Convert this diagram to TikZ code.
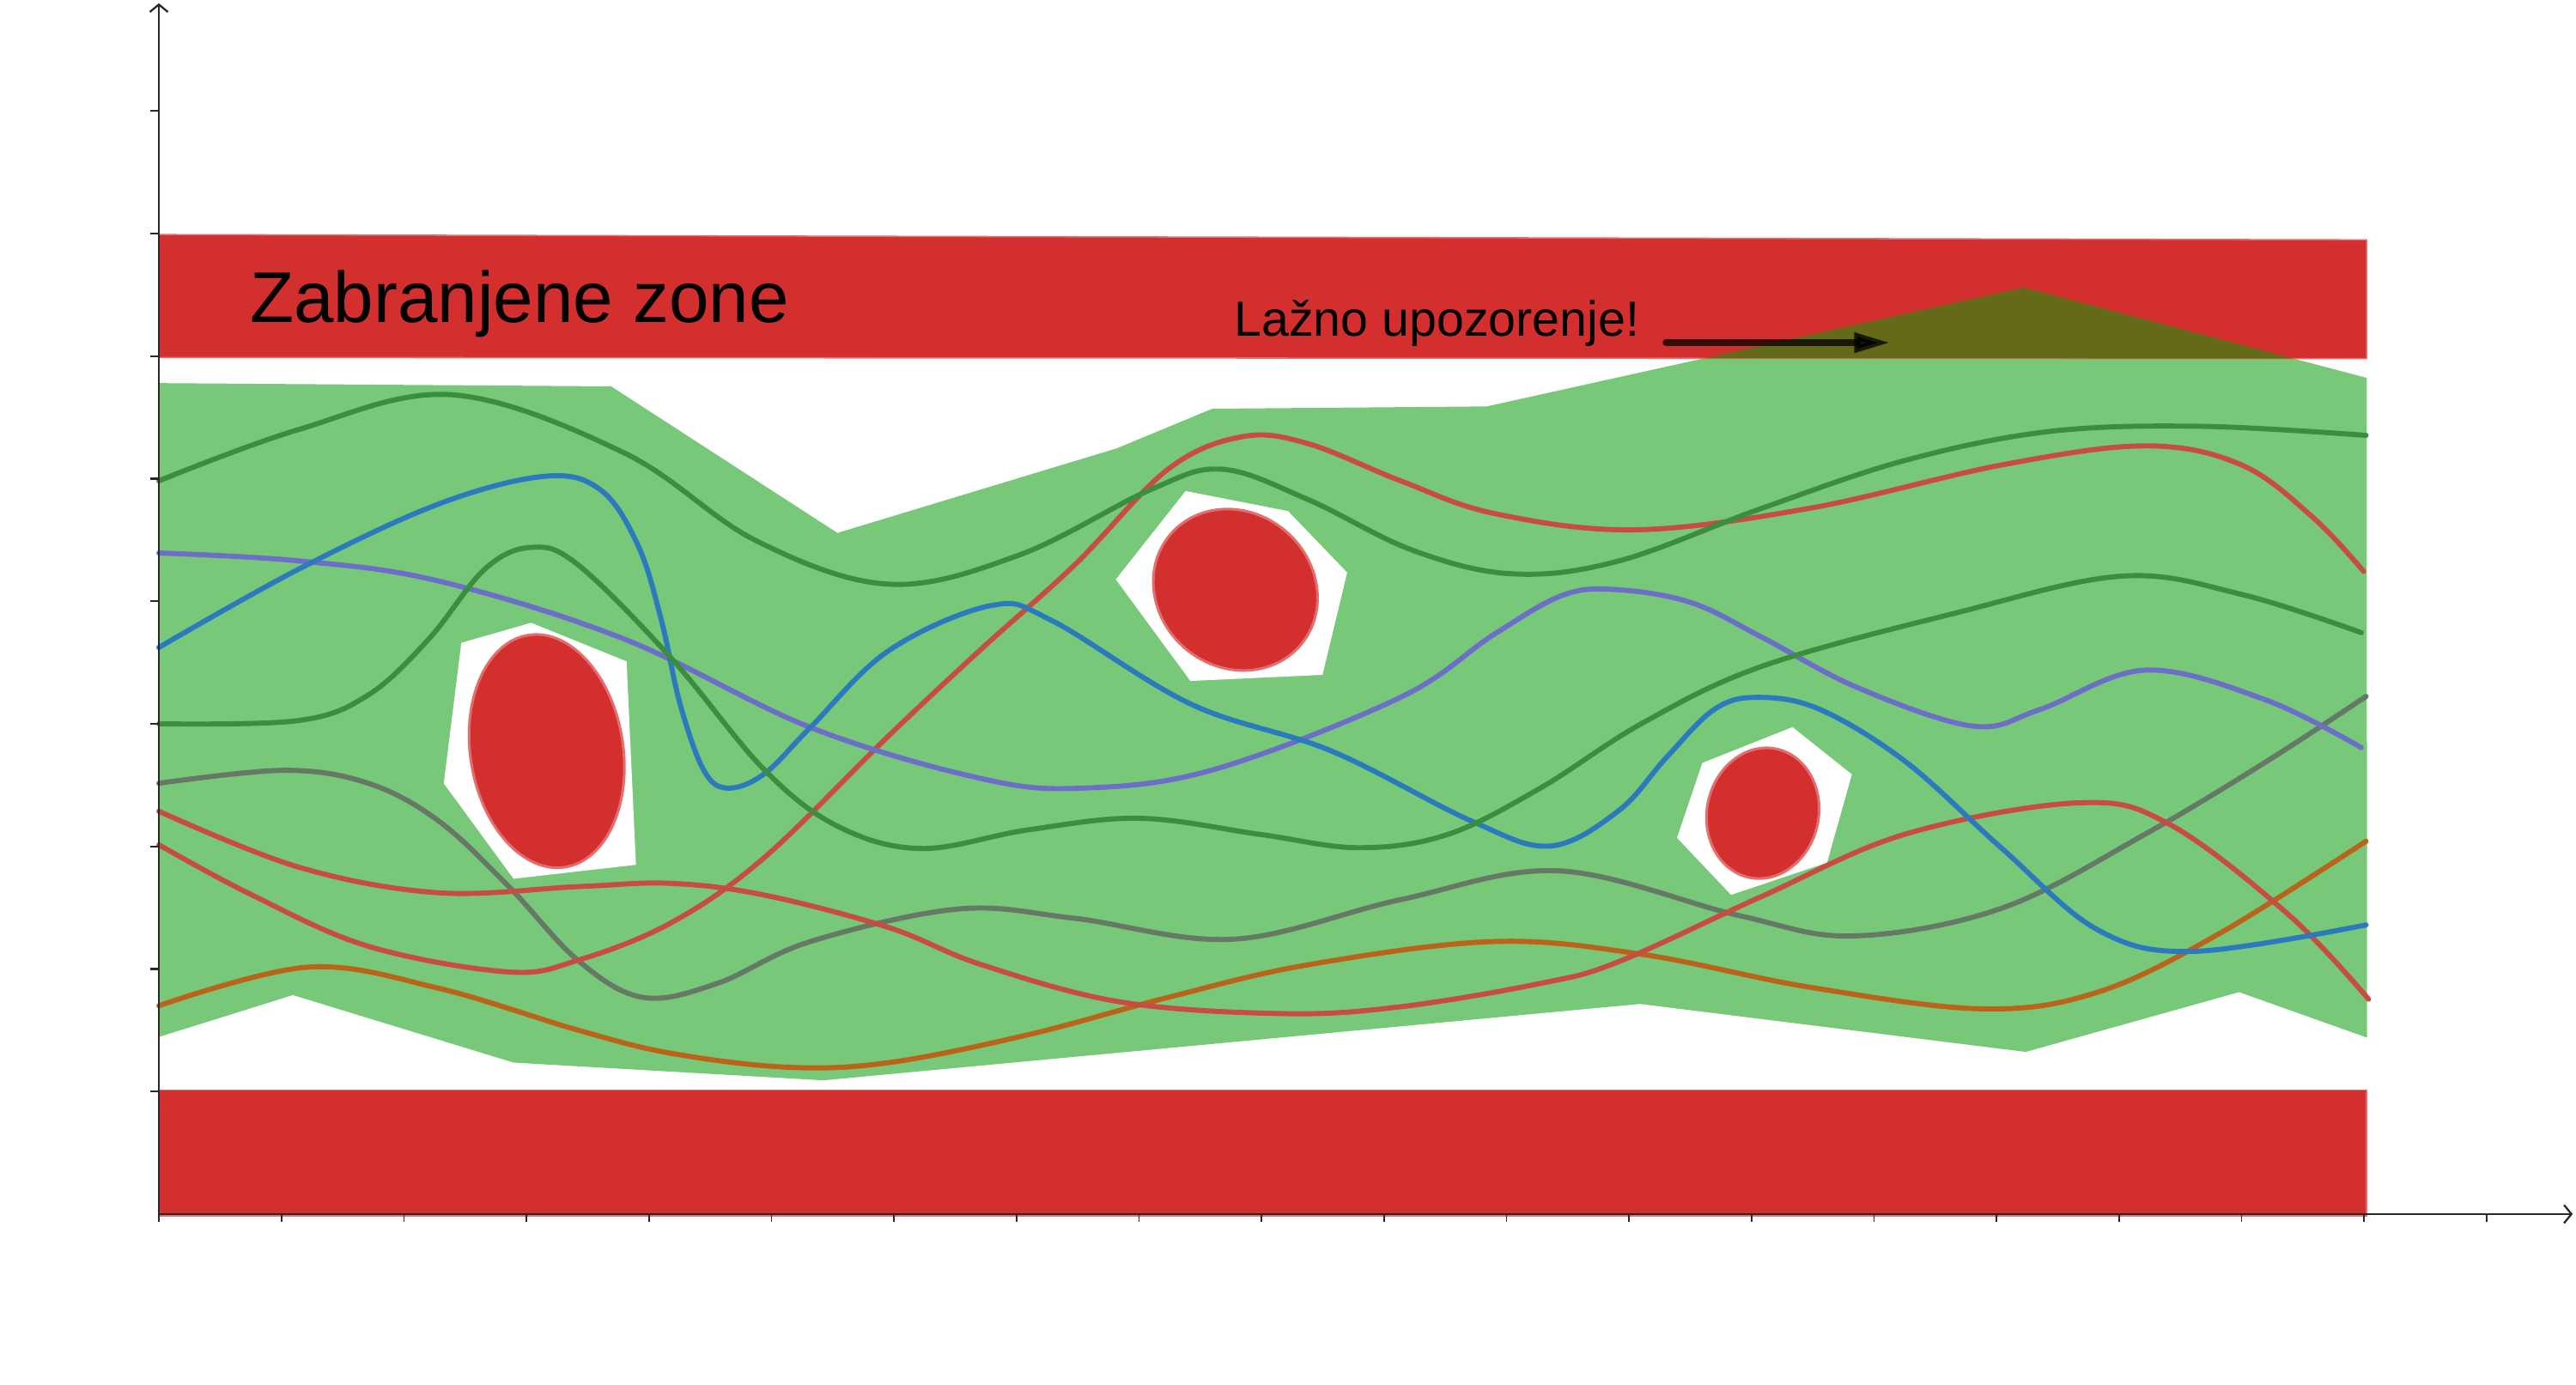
\documentclass[tikz,border=0pt]{standalone}
\usepackage{fontspec}
\setmainfont{Liberation Sans}
\usetikzlibrary{arrows.meta}
\definecolor{zonered}{RGB}{211,47,47}
\definecolor{zoneedge}{RGB}{226,110,110}
\definecolor{freegreen}{RGB}{120,200,121}
\definecolor{olivezone}{RGB}{101,106,24}
\definecolor{cdgreen}{RGB}{58,142,62}
\definecolor{cblue}{RGB}{43,122,190}
\definecolor{cpurple}{RGB}{108,110,200}
\definecolor{cred}{RGB}{200,76,66}
\definecolor{cgrey}{RGB}{102,120,102}
\definecolor{corange}{RGB}{185,100,26}
\definecolor{axiscol}{RGB}{40,40,40}
\tikzset{
  axisline/.style={draw=axiscol, line width=1.2pt},
  traj/.style={line width=3.1pt, line cap=round, line join=round},
  obstaclepad/.style={fill=white},
  obstaclecore/.style={fill=zonered, draw=zoneedge, line width=1.6pt},
  zoneband/.style={fill=zonered, draw=zoneedge, line width=0.8pt},
}
\def\GreenRegion{(96.7,233.2) -- (372,235.2) -- (509.7,324.4) -- (679.8,272.9) -- (737.9,248.8) -- (905,247.4) -- (1232,175) -- (1440.6,230) -- (1440.8,631.6) -- (1362.9,603.9) -- (1233.1,640.3) -- (998.3,611.1) -- (501.2,657.6) -- (312.6,646.8) -- (178.3,605.7) -- (96.7,631.2) -- cycle}
\def\TopBand{(96.7,142.8) -- (1440.5,146) -- (1440.5,218.3) -- (96.7,217.6) -- cycle}
\begin{document}
\begin{tikzpicture}[x=1pt,y=-1pt]
\useasboundingbox (0,0) rectangle (1568,843);

% free (green) region
\fill[freegreen] \GreenRegion;

% forbidden zones
\path[zoneband] \TopBand;
\path[zoneband] (96.7,663.6) rectangle (1440.5,740.2);

% overlap of the free region with the top forbidden zone
\begin{scope}
  \clip \TopBand;
  \fill[olivezone] \GreenRegion;
\end{scope}

% obstacles
\fill[obstaclepad] (323.3,379.1) -- (381.4,402.6) -- (387.1,526.4) -- (312.6,534.9) -- (270.1,476.8) -- (280.8,391.3) -- cycle;
\fill[obstaclepad] (721.7,298.9) -- (784,311.1) -- (820,348.5) -- (805,410.8) -- (724.6,414.5) -- (679.2,352.7) -- cycle;
\fill[obstaclepad] (1091.1,442.6) -- (1127.2,471.4) -- (1112.1,525.1) -- (1053.7,544.7) -- (1020.8,510) -- (1036.2,464.4) -- cycle;
\begin{scope}[shift={(332.8,457.2)}, rotate=9]
  \path[obstaclecore] (0,0) ellipse [x radius=46.5pt, y radius=71.5pt];
\end{scope}
\begin{scope}[shift={(752,359)}, rotate=-40]
  \path[obstaclecore] (0,0) ellipse [x radius=52pt, y radius=47pt];
\end{scope}
\begin{scope}[shift={(1073,495)}, rotate=-12]
  \path[obstaclecore] (0,0) ellipse [x radius=34pt, y radius=40pt];
\end{scope}

% trajectories
\draw[traj, corange] plot[smooth, tension=0.6] coordinates {(96.7,612.2) (187.4,588.7) (266.7,601.5) (351.7,627) (408.3,641.1) (479.1,649.6) (541,646.8) (626,629.8) (711,607.1) (796,587.3) (909.3,573.1) (1000,581) (1101.9,601) (1206.9,614.1) (1276.9,603.9) (1349.8,568.9) (1440.2,512)};
\draw[traj, cgrey] plot[smooth, tension=0.6] coordinates {(96.7,476.8) (173.2,468.9) (224.2,476.8) (266.7,499.5) (309.2,539.1) (351.7,584.5) (391.3,607.1) (436.6,598.6) (493.3,573.1) (583.5,553.3) (654.3,559) (750.6,571.7) (852.6,547.6) (949,530.1) (1058.1,557.2) (1128.1,569.7) (1218.5,552.8) (1306,507.6) (1379,463.9) (1440.2,423.9)};
\draw[traj, cred] plot[smooth, tension=0.6] coordinates {(96.7,493.8) (181.7,527.8) (266.7,543.4) (351.7,539.7) (408.3,537.7) (465,544.8) (541,564.6) (597.7,587.3) (682.6,610) (781.8,617) (852.6,612.8) (937.6,598.6) (985.2,585.4) (1072.7,545.5) (1160.2,507.6) (1265.2,488.7) (1320.6,501.8) (1393.5,557.2) (1441.7,608.2)};
\draw[traj, cred] plot[smooth, tension=0.6] coordinates {(96.7,514.2) (153.4,544.8) (224.2,576) (309.2,591.6) (351.7,584.5) (408.3,561.8) (465,522.2) (541,447.8) (597.7,394.7) (654.3,343.7) (711,285.6) (756.3,265.8) (796,270) (852.6,292.7) (909.3,312.5) (995,322.5) (1101.9,309.3) (1218.5,283) (1306,271.4) (1364.4,283) (1408,315.1) (1438.7,347.8)};
\draw[traj, cpurple] plot[smooth, tension=0.6] coordinates {(96.7,336.6) (181.7,341.4) (266.7,353.6) (380,389) (493.3,442.8) (597.7,474) (660,479.7) (739.3,468.3) (852.6,424.4) (909.3,386.2) (951.8,362.1) (985.2,359) (1030,367) (1072.7,388) (1131,418.7) (1201,442) (1241.9,431.8) (1306,407.9) (1379,426) (1437.3,455.1)};
\draw[traj, cblue] plot[smooth, tension=0.6] coordinates {(96.7,394.1) (181.7,346.5) (266.7,306.9) (331.8,289.9) (365.8,298.4) (388.5,332.3) (402.6,377.7) (414,428.7) (428.1,468.3) (442.3,479.7) (465,471.2) (493.3,442.8) (541,396) (603.3,368.6) (640.2,377.7) (725.1,428.7) (810.1,457) (895.1,499.5) (943.3,515) (985.2,493.5) (1014.4,461) (1043.5,431.8) (1069.8,424.5) (1107.7,431.8) (1160.2,463.9) (1218.5,516.4) (1276.9,566) (1335.2,579.1) (1440.2,563)};
\draw[traj, cdgreen] plot[smooth, tension=0.6] coordinates {(96.7,440.6) (181.7,438.6) (224.2,423) (261,389) (295,346.5) (323.3,333.2) (351.7,343.7) (408.3,400.3) (465,468.3) (510,503) (560.8,516.5) (626,505.1) (694,498.1) (767.6,508) (827,516) (881,508) (937.6,479.7) (1000,440) (1072.7,405.5) (1189.4,373.4) (1291.4,350.7) (1364.4,361.8) (1437.3,385.1)};
\draw[traj, cdgreen] plot[smooth, tension=0.6] coordinates {(96.7,292.7) (181.7,261.5) (275.2,240.3) (380,275.7) (460,329) (541,355.6) (620,338) (699.6,298.4) (743.5,285.6) (796,304) (860,335) (920.6,349.3) (985.2,341.5) (1072.7,309.3) (1160.2,280.1) (1247.7,262.6) (1340,259.5) (1440.2,265)};

% labels
\node[anchor=base west, inner sep=0pt, font=\fontsize{43.7}{50}\selectfont] (zz) at (152,196.5) {Zabranjene zone};
\node[anchor=base west, inner sep=0pt, font=\fontsize{30}{36}\selectfont] (lu) at (751,204.7) {Lažno upozorenje!};
\coordinate (arrS) at (1014,208.6);
\coordinate (arrE) at (1150.6,208.6);
\draw[black, opacity=0.75, line width=4pt, line cap=round, -{Triangle[length=22pt,width=11.5pt]}] (arrS) -- (arrE);

% axes
\coordinate (O) at (96.7,739);
\coordinate (ytop) at (96.7,2);
\coordinate (xend) at (1566,739);
\draw[axisline, -{Straight Barb[length=4.5pt,width=11pt]}] (O) -- (ytop);
\draw[axisline, -{Straight Barb[length=4.5pt,width=11pt]}] (O) -- (xend);
\foreach \k in {1,...,9} \draw[axisline] (91.7,{739-74.6*\k}) -- (96.7,{739-74.6*\k});
\foreach \k in {0,...,19} \draw[axisline, line width=0.9pt] ({96.7+74.57*\k},739) -- ({96.7+74.57*\k},743.5);
\end{tikzpicture}
\end{document}
